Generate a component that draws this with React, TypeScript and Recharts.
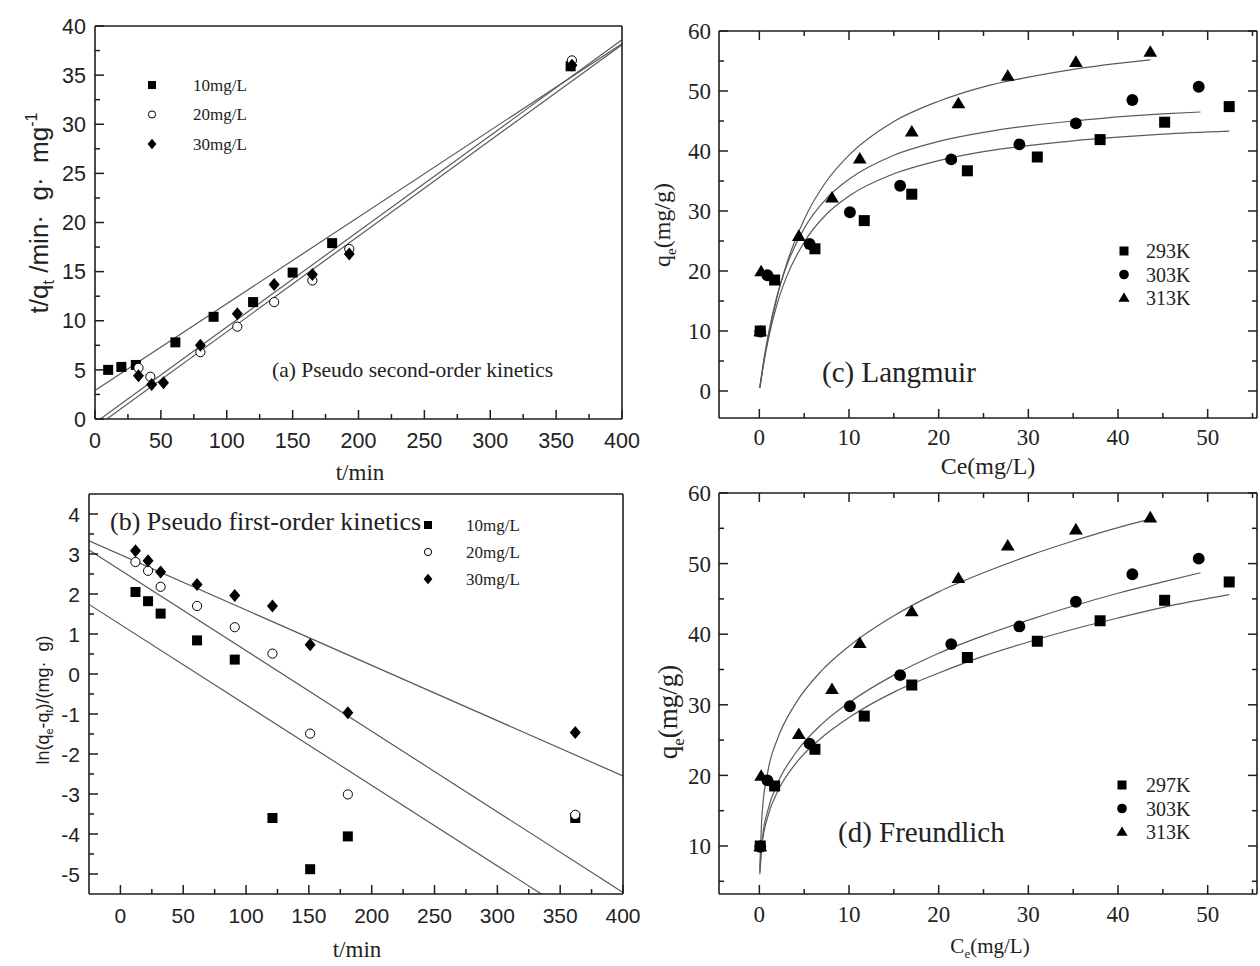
import React from 'react';
import { ComposedChart, Scatter, Line, XAxis, YAxis } from 'recharts';

// ---------- (a) pseudo second-order kinetics: t vs t/qt ----------
const kinNames = ['10mg/L', '20mg/L', '30mg/L'];
const aT10 = [10, 20, 31, 61, 90, 120, 150, 180, 361];
const aQ10 = [5.0, 5.3, 5.5, 7.8, 10.4, 11.9, 14.9, 17.9, 35.9];
const aT20 = [33, 42, 80, 108, 136, 165, 193, 362];
const aQ20 = [5.2, 4.3, 6.8, 9.4, 11.9, 14.1, 17.3, 36.5];
const aT30 = [33, 43, 52, 80, 108, 136, 165, 193, 362];
const aQ30 = [4.4, 3.5, 3.7, 7.5, 10.7, 13.7, 14.7, 16.8, 36.0];
// fitted lines (end points)
const aFitT10 = [0, 400];
const aFit10 = [2.9, 38.2];
const aFitT20 = [4, 400];
const aFit20 = [0, 38.6];
const aFitT30 = [9, 400];
const aFit30 = [0, 38.1];

// ---------- (b) pseudo first-order kinetics: t vs ln(qe-qt) ----------
const bT = [12, 22, 32, 61, 91, 121, 151, 181, 362];
const bL10 = [2.05, 1.82, 1.51, 0.84, 0.36, -3.6, -4.88, -4.06, -3.6];
const bL20 = [2.8, 2.58, 2.18, 1.7, 1.17, 0.51, -1.49, -3.01, -3.52];
const bL30 = [3.08, 2.83, 2.55, 2.24, 1.96, 1.7, 0.73, -0.97, -1.46];
const bFitT10 = [-25, 335];
const bFit10 = [1.74, -5.5];
const bFitT20 = [-25, 400];
const bFit20 = [3.1, -5.46];
const bFitT30 = [-25, 400];
const bFit30 = [3.33, -2.55];

// ---------- (c)/(d) isotherms: Ce vs qe ----------
const isoNamesC = ['293K', '303K', '313K'];
const isoNamesD = ['297K', '303K', '313K'];
const ce293 = [0.1, 1.7, 6.2, 11.7, 17.0, 23.2, 31.0, 38.0, 45.2, 52.4];
const qe293 = [10.0, 18.5, 23.7, 28.4, 32.8, 36.7, 39.0, 41.9, 44.8, 47.4];
const ce303 = [0.1, 0.9, 5.6, 10.1, 15.7, 21.4, 29.0, 35.3, 41.6, 49.0];
const qe303 = [9.9, 19.3, 24.5, 29.8, 34.2, 38.6, 41.1, 44.6, 48.5, 50.7];
const ce313 = [0.1, 0.2, 4.4, 8.1, 11.2, 17.0, 22.2, 27.7, 35.3, 43.6];
const qe313 = [9.9, 19.9, 25.8, 32.2, 38.7, 43.2, 47.9, 52.5, 54.8, 56.5];

// Langmuir fit curves
const lgC293 = [0.05, 0.5, 1, 2, 3, 5, 7.5, 10, 15, 20, 25, 30, 35, 40, 45, 52.4];
const lgQ293 = [0.5, 4.7, 8.6, 14.6, 18.9, 24.8, 29.5, 32.5, 36.2, 38.4, 39.9, 40.9, 41.7, 42.3, 42.8, 43.3];
const lgC303 = [0.05, 0.5, 1, 2, 3, 5, 7.5, 10, 15, 20, 25, 30, 35, 40, 45, 49.2];
const lgQ303 = [0.6, 5.2, 9.5, 16.0, 20.7, 27.1, 32.1, 35.3, 39.3, 41.6, 43.1, 44.2, 45.0, 45.7, 46.2, 46.5];
const lgC313 = [0.05, 0.5, 1, 2, 3, 5, 7.5, 10, 15, 20, 25, 30, 35, 40, 43.6];
const lgQ313 = [0.5, 4.9, 9.0, 15.8, 21.0, 28.6, 35.0, 39.3, 44.9, 48.3, 50.7, 52.3, 53.6, 54.6, 55.2];

// Freundlich fit curves
const frC293 = [0.05, 0.3, 1, 2, 4, 7, 10, 15, 20, 25, 30, 35, 40, 45, 52.4];
const frQ293 = [6.0, 10.1, 14.4, 17.6, 21.6, 25.4, 28.2, 31.8, 34.5, 36.9, 38.9, 40.7, 42.3, 43.8, 45.6];
const frC303 = [0.05, 0.3, 1, 2, 4, 7, 10, 15, 20, 25, 30, 35, 40, 45, 49.2];
const frQ303 = [6.3, 10.7, 15.3, 18.8, 23.1, 27.3, 30.3, 34.2, 37.3, 39.8, 42.0, 44.0, 45.8, 47.4, 48.7];
const frC313 = [0.05, 0.3, 1, 2, 4, 7, 10, 15, 20, 25, 30, 35, 40, 43.6];
const frQ313 = [6.8, 14.5, 20.9, 25.1, 30.1, 34.9, 38.3, 42.6, 46.0, 48.7, 51.1, 53.2, 55.1, 56.3];

// ---------- ticks ----------
const kinXMajor = [0, 50, 100, 150, 200, 250, 300, 350, 400];
const kinXMinor = [25, 75, 125, 175, 225, 275, 325, 375];
const aYMajor = [0, 5, 10, 15, 20, 25, 30, 35, 40];
const aYMinor = [2.5, 7.5, 12.5, 17.5, 22.5, 27.5, 32.5, 37.5];
const bYMajor = [-5, -4, -3, -2, -1, 0, 1, 2, 3, 4];
const bYMinor = [-4.5, -3.5, -2.5, -1.5, -0.5, 0.5, 1.5, 2.5, 3.5];
const isoXMajor = [0, 10, 20, 30, 40, 50];
const isoXMinor = [5, 15, 25, 35, 45, 55];
const cYMajor = [0, 10, 20, 30, 40, 50, 60];
const dYMajor = [10, 20, 30, 40, 50, 60];
const isoYMinor = [5, 15, 25, 35, 45, 55];

const INK = '#1e1e1e';
const FIT = '#5a5a5a';
const SANS = "'Liberation Sans', Arial, sans-serif";
const SERIF = "'Liberation Serif', 'Times New Roman', serif";
const AX_W = 60;
const AX_H = 40;

type Kind = 'square' | 'open' | 'diamond' | 'dot' | 'triangle';
type Pt = { x: number; y: number };
type Series = { name: string; kind: Kind; pts: Pt[]; fit: Pt[] };
type Box = { left: number; top: number; width: number; height: number };
type Frame = { x1: number; y1: number; x2: number; y2: number };

const pts = (xs: number[], ys: number[]): Pt[] => xs.map((x, i) => ({ x, y: ys[i] }));

function Marker({ kind, cx, cy, s }: { kind: Kind; cx: number; cy: number; s: number }) {
  const h = s / 2;
  if (kind === 'square') return <rect x={cx - h} y={cy - h} width={s} height={s} fill="#000" />;
  if (kind === 'open') return <circle cx={cx} cy={cy} r={h - 0.4} fill="#fff" stroke="#000" strokeWidth={1} />;
  if (kind === 'dot') return <circle cx={cx} cy={cy} r={h * 1.08} fill="#000" />;
  if (kind === 'diamond')
    return <polygon points={`${cx},${cy - h * 1.3} ${cx + h * 1.1},${cy} ${cx},${cy + h * 1.3} ${cx - h * 1.1},${cy}`} fill="#000" />;
  return <polygon points={`${cx},${cy - h * 1.25} ${cx + h * 1.25},${cy + h * 0.85} ${cx - h * 1.25},${cy + h * 0.85}`} fill="#000" />;
}

// inward tick marks; labels only on major ticks of the bottom/left axes
function tickFor(side: string, majors: number[], labels: boolean, font: string, size: number, gap: number) {
  return (p: any) => {
    const v = p.payload.value;
    const major = majors.some((m) => Math.abs(m - v) < 1e-6);
    const len = major ? 9 : 5;
    const x = p.x;
    const y = p.y;
    let l = [x, y, x, y - len];
    if (side === 'top') l = [x, y, x, y + len];
    if (side === 'left') l = [x, y, x + len, y];
    if (side === 'right') l = [x, y, x - len, y];
    return (
      <g>
        <line x1={l[0]} y1={l[1]} x2={l[2]} y2={l[3]} stroke={INK} strokeWidth={1.5} />
        {labels && major && side === 'bottom' && (
          <text x={x} y={y + gap} textAnchor="middle" fontFamily={font} fontSize={size} fill="#222">{v}</text>
        )}
        {labels && major && side === 'left' && (
          <text x={x - gap} y={y + size * 0.36} textAnchor="end" fontFamily={font} fontSize={size} fill="#222">{v}</text>
        )}
      </g>
    );
  };
}

type PanelProps = {
  box: Box; frame: Frame;
  xDom: [number, number]; yDom: [number, number];
  xMajor: number[]; xMinor: number[]; yMajor: number[]; yMinor: number[];
  boxTicks: boolean; font: string; size: number; xGap: number; yGap: number;
  series: Series[]; ms: number; curve: 'linear' | 'monotone';
};

function Panel(p: PanelProps) {
  const { box, frame } = p;
  const margin = {
    left: frame.x1 - box.left - AX_W,
    right: box.left + box.width - frame.x2 - 1,
    top: frame.y1 - box.top - 1,
    bottom: box.top + box.height - frame.y2 - AX_H,
  };
  const xTicks = [...p.xMajor, ...p.xMinor].sort((a, b) => a - b);
  const yTicks = [...p.yMajor, ...p.yMinor].sort((a, b) => a - b);
  const axisLine = { stroke: INK, strokeWidth: 1.6 };
  return (
    <div style={{ position: 'absolute', left: box.left, top: box.top }}>
      <ComposedChart width={box.width} height={box.height} margin={margin}>
        <XAxis xAxisId="b" type="number" dataKey="x" domain={p.xDom} allowDataOverflow ticks={xTicks} interval={0}
          height={AX_H} tickLine={false} tickSize={0} tickMargin={0} axisLine={axisLine}
          tick={tickFor('bottom', p.xMajor, true, p.font, p.size, p.xGap)} />
        <XAxis xAxisId="t" orientation="top" type="number" dataKey="x" domain={p.xDom} allowDataOverflow ticks={xTicks} interval={0}
          height={1} tickLine={false} tickSize={0} tickMargin={0} axisLine={axisLine}
          tick={p.boxTicks ? tickFor('top', p.xMajor, false, p.font, p.size, 0) : false} />
        <YAxis yAxisId="l" type="number" dataKey="y" domain={p.yDom} allowDataOverflow ticks={yTicks} interval={0}
          width={AX_W} tickLine={false} tickSize={0} tickMargin={0} axisLine={axisLine}
          tick={tickFor('left', p.yMajor, true, p.font, p.size, p.yGap)} />
        <YAxis yAxisId="r" orientation="right" type="number" dataKey="y" domain={p.yDom} allowDataOverflow ticks={yTicks} interval={0}
          width={1} tickLine={false} tickSize={0} tickMargin={0} axisLine={axisLine}
          tick={p.boxTicks ? tickFor('right', p.yMajor, false, p.font, p.size, 0) : false} />
        {/* fit curves sit on the top/right axes (same domains as bottom/left) */}
        {p.series.map((s) => (
          <Line key={'f' + s.name} xAxisId="t" yAxisId="r" data={s.fit} dataKey="y" type={p.curve}
            stroke={FIT} strokeWidth={1.2} dot={false} activeDot={false} isAnimationActive={false} />
        ))}
        {p.series.map((s) => (
          <Scatter key={'s' + s.name} xAxisId="b" yAxisId="l" data={s.pts} dataKey="y" isAnimationActive={false}
            shape={(q: any) => <Marker kind={s.kind} cx={q.cx} cy={q.cy} s={p.ms} />} />
        ))}
      </ComposedChart>
    </div>
  );
}

function LegendBox({ series, x, y0, step, tx, size, ms }: { series: Series[]; x: number; y0: number; step: number; tx: number; size: number; ms: number }) {
  return (
    <g>
      {series.map((s, i) => (
        <g key={s.name}>
          <Marker kind={s.kind} cx={x} cy={y0 + i * step} s={ms} />
          <text x={tx} y={y0 + i * step + size * 0.35} fontFamily={SERIF} fontSize={size} fill="#222">{s.name}</text>
        </g>
      ))}
    </g>
  );
}

const aSeries: Series[] = [
  { name: kinNames[0], kind: 'square', pts: pts(aT10, aQ10), fit: pts(aFitT10, aFit10) },
  { name: kinNames[1], kind: 'open', pts: pts(aT20, aQ20), fit: pts(aFitT20, aFit20) },
  { name: kinNames[2], kind: 'diamond', pts: pts(aT30, aQ30), fit: pts(aFitT30, aFit30) },
];
const bSeries: Series[] = [
  { name: kinNames[0], kind: 'square', pts: pts(bT, bL10), fit: pts(bFitT10, bFit10) },
  { name: kinNames[1], kind: 'open', pts: pts(bT, bL20), fit: pts(bFitT20, bFit20) },
  { name: kinNames[2], kind: 'diamond', pts: pts(bT, bL30), fit: pts(bFitT30, bFit30) },
];
const cSeries: Series[] = [
  { name: isoNamesC[0], kind: 'square', pts: pts(ce293, qe293), fit: pts(lgC293, lgQ293) },
  { name: isoNamesC[1], kind: 'dot', pts: pts(ce303, qe303), fit: pts(lgC303, lgQ303) },
  { name: isoNamesC[2], kind: 'triangle', pts: pts(ce313, qe313), fit: pts(lgC313, lgQ313) },
];
const dSeries: Series[] = [
  { name: isoNamesD[0], kind: 'square', pts: pts(ce293, qe293), fit: pts(frC293, frQ293) },
  { name: isoNamesD[1], kind: 'dot', pts: pts(ce303, qe303), fit: pts(frC303, frQ303) },
  { name: isoNamesD[2], kind: 'triangle', pts: pts(ce313, qe313), fit: pts(frC313, frQ313) },
];

export default function App() {
  return (
    <div style={{ position: 'absolute', left: 0, top: 0, width: 1260, height: 966, background: '#fff', overflow: 'hidden' }}>
      <Panel box={{ left: 0, top: 0, width: 640, height: 480 }} frame={{ x1: 95, y1: 26, x2: 622, y2: 419 }}
        xDom={[0, 400]} yDom={[0, 40]} xMajor={kinXMajor} xMinor={kinXMinor} yMajor={aYMajor} yMinor={aYMinor}
        boxTicks={false} font={SANS} size={21.5} xGap={29} yGap={9} series={aSeries} ms={10} curve="linear" />
      <Panel box={{ left: 0, top: 480, width: 640, height: 486 }} frame={{ x1: 89, y1: 494, x2: 623, y2: 894 }}
        xDom={[-25, 400]} yDom={[-5.5, 4.5]} xMajor={kinXMajor} xMinor={kinXMinor} yMajor={bYMajor} yMinor={bYMinor}
        boxTicks={false} font={SANS} size={21} xGap={29} yGap={9} series={bSeries} ms={10} curve="linear" />
      <Panel box={{ left: 640, top: 0, width: 620, height: 480 }} frame={{ x1: 719, y1: 31, x2: 1257, y2: 418 }}
        xDom={[-4.5, 55.5]} yDom={[-4.5, 60]} xMajor={isoXMajor} xMinor={isoXMinor} yMajor={cYMajor} yMinor={isoYMinor}
        boxTicks={true} font={SERIF} size={23} xGap={27} yGap={8} series={cSeries} ms={11} curve="monotone" />
      <Panel box={{ left: 640, top: 480, width: 620, height: 486 }} frame={{ x1: 719, y1: 493, x2: 1257, y2: 894 }}
        xDom={[-4.5, 55.5]} yDom={[3.2, 60]} xMajor={isoXMajor} xMinor={isoXMinor} yMajor={dYMajor} yMinor={isoYMinor}
        boxTicks={true} font={SERIF} size={23} xGap={28} yGap={8} series={dSeries} ms={11} curve="monotone" />

      <svg width={1260} height={966} style={{ position: 'absolute', left: 0, top: 0, pointerEvents: 'none' }}>
        {/* (a) */}
        <text transform="translate(48,213) rotate(-90)" textAnchor="middle" fontFamily={SANS} fontSize={26} fill="#222">
          t/q<tspan dy={6} fontSize={16}>t</tspan><tspan dy={-6}>{' /min·\u00a0\u00a0g·\u00a0\u00a0mg'}</tspan><tspan dy={-11} fontSize={16}>-1</tspan>
        </text>
        <text x={360} y={480} textAnchor="middle" fontFamily={SERIF} fontSize={23} fill="#222">t/min</text>
        <LegendBox series={aSeries} x={152} y0={85} step={29.5} tx={193} size={17} ms={8} />
        <text x={272} y={377} fontFamily={SERIF} fontSize={21.5} fill="#222">(a) Pseudo second-order kinetics</text>

        {/* (b) */}
        <text transform="translate(49,700) rotate(-90)" textAnchor="middle" fontFamily={SANS} fontSize={18} fill="#222">
          ln(q<tspan dy={4} fontSize={11}>e</tspan><tspan dy={-4}>-q</tspan><tspan dy={4} fontSize={11}>t</tspan><tspan dy={-4}>{')/(mg·\u00a0\u00a0g)'}</tspan>
        </text>
        <text x={357} y={957} textAnchor="middle" fontFamily={SERIF} fontSize={23} fill="#222">t/min</text>
        <LegendBox series={bSeries} x={428} y0={525} step={27} tx={466} size={17} ms={8} />
        <text x={110} y={530} fontFamily={SERIF} fontSize={26} fill="#222">(b) Pseudo first-order kinetics</text>

        {/* (c) */}
        <text transform="translate(670,225) rotate(-90)" textAnchor="middle" fontFamily={SERIF} fontSize={24} fill="#222">
          q<tspan dy={6} fontSize={15}>e</tspan><tspan dy={-6}>(mg/g)</tspan>
        </text>
        <text x={988} y={474} textAnchor="middle" fontFamily={SERIF} fontSize={24} fill="#222">Ce(mg/L)</text>
        <LegendBox series={cSeries} x={1124} y0={251} step={23.5} tx={1146} size={20} ms={9} />
        <text x={822} y={382} fontFamily={SERIF} fontSize={29} fill="#222">(c) Langmuir</text>

        {/* (d) */}
        <text transform="translate(677,712) rotate(-90)" textAnchor="middle" fontFamily={SERIF} fontSize={27} fill="#222">
          q<tspan dy={7} fontSize={17}>e</tspan><tspan dy={-7}>(mg/g)</tspan>
        </text>
        <text x={990} y={953} textAnchor="middle" fontFamily={SERIF} fontSize={21} fill="#222">
          C<tspan dy={5} fontSize={13}>e</tspan><tspan dy={-5}>(mg/L)</tspan>
        </text>
        <LegendBox series={dSeries} x={1122} y0={785} step={23.5} tx={1146} size={20} ms={9} />
        <text x={838} y={842} fontFamily={SERIF} fontSize={29} fill="#222">(d) Freundlich</text>
      </svg>
    </div>
  );
}
